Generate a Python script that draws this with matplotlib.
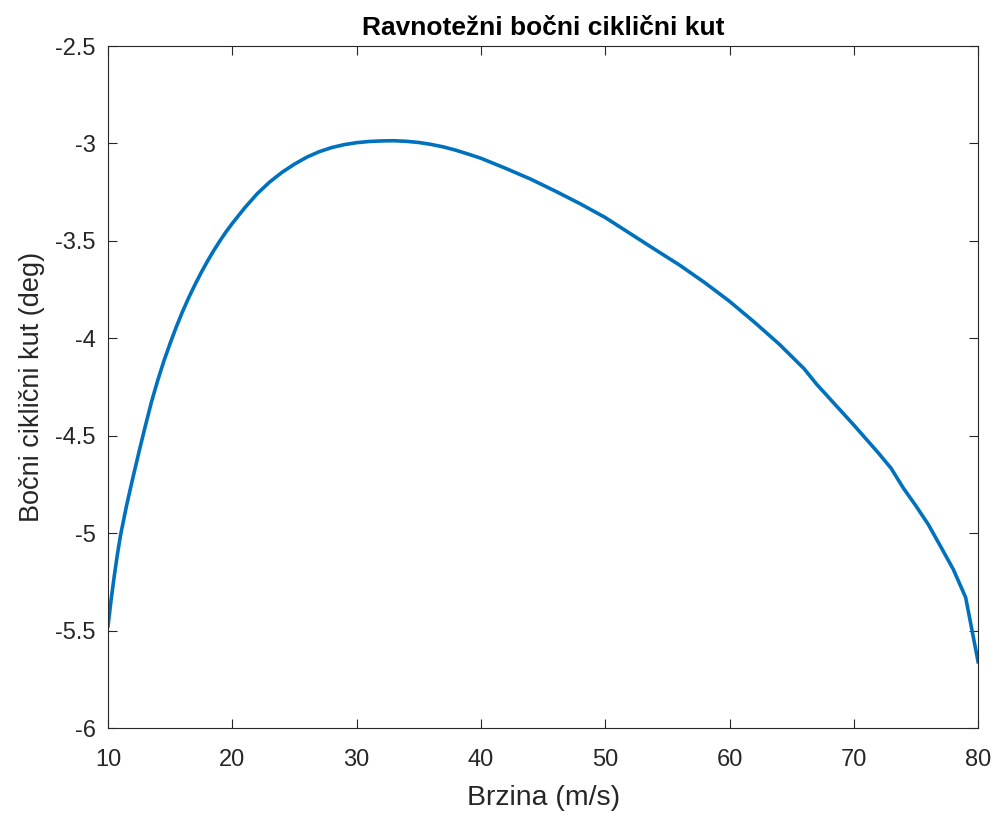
import matplotlib
matplotlib.use("Agg")
import matplotlib.pyplot as plt

speed = [10, 10.25, 10.5, 10.75, 11, 11.5, 12, 12.5, 13, 13.5, 14, 14.5, 15, 15.5, 16,
         16.5, 17, 17.5, 18, 18.5, 19, 19.5, 20, 21, 22, 23, 24, 25, 26, 27, 28, 29,
         30, 31, 32, 33, 34, 35, 36, 37, 38, 39, 40, 42, 44, 46, 48, 50, 52, 54, 56,
         58, 60, 62, 64, 66, 67, 68, 70, 72, 73, 74, 75, 76, 77, 78, 79, 80]
angle = [-5.475, -5.34, -5.22, -5.11, -5.012, -4.855, -4.715, -4.58, -4.45, -4.325,
         -4.215, -4.115, -4.025, -3.94, -3.862, -3.79, -3.724, -3.662, -3.604, -3.55,
         -3.50, -3.453, -3.41, -3.33, -3.258, -3.198, -3.148, -3.106, -3.07, -3.042,
         -3.021, -3.006, -2.996, -2.99, -2.987, -2.986, -2.989, -2.995, -3.005, -3.018,
         -3.035, -3.055, -3.076, -3.128, -3.183, -3.245, -3.31, -3.38, -3.462, -3.544,
         -3.625, -3.714, -3.81, -3.917, -4.03, -4.156, -4.235, -4.305, -4.445, -4.59,
         -4.667, -4.77, -4.86, -4.956, -5.07, -5.185, -5.33, -5.66]

xticks = [10, 20, 30, 40, 50, 60, 70, 80]
yticks = [-6, -5.5, -5, -4.5, -4, -3.5, -3, -2.5]
yticklabels = ["-6", "-5.5", "-5", "-4.5", "-4", "-3.5", "-3", "-2.5"]

plt.rcParams['font.family'] = ['Liberation Sans', 'DejaVu Sans']

fig = plt.figure(figsize=(9.94, 8.16), dpi=100)
ax = fig.add_axes([0.1087, 0.1078, 0.8753, 0.8358])
ax.plot(speed, angle, color='#0072BD', lw=2.6, solid_joinstyle='round')
ax.set_xlim(10, 80)
ax.set_ylim(-6, -2.5)
ax.set_xticks(xticks)
ax.set_xticklabels([str(t) for t in xticks])
ax.set_yticks(yticks)
ax.set_yticklabels(yticklabels)
gray = '#262626'
for s in ax.spines.values():
    s.set_color(gray)
    s.set_linewidth(0.8)
ax.tick_params(direction='in', length=6.5, width=0.8, colors=gray, labelsize=17,
               top=True, right=True, labelcolor=gray)
ax.tick_params(axis='x', pad=15)
ax.tick_params(axis='y', pad=9)
ax.set_xlabel('Brzina (m/s)', fontsize=20.5, color=gray, labelpad=10)
ax.set_ylabel('Bočni ciklični kut (deg)', fontsize=19.5, color=gray, labelpad=7)
ax.set_title('Ravnotežni bočni ciklični kut', fontsize=19, fontweight='bold', pad=8)
fig.savefig('out.png', dpi=100)
